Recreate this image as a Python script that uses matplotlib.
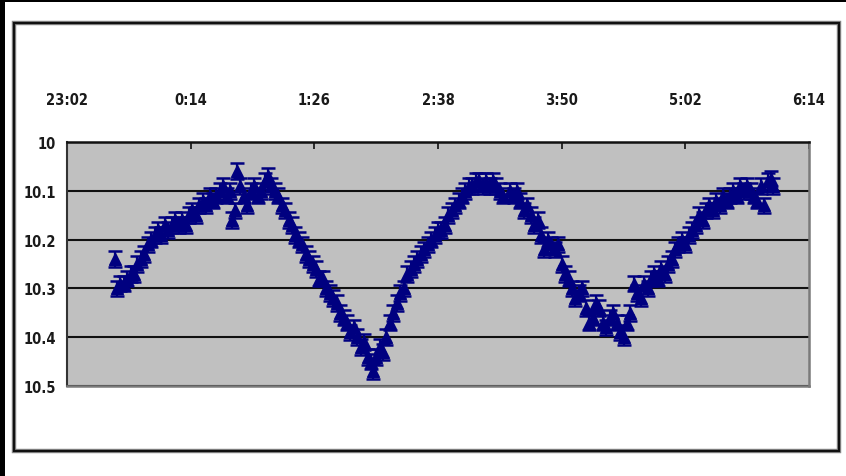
import matplotlib
matplotlib.use("Agg")
import matplotlib.pyplot as plt
from matplotlib.patches import Rectangle

# observation times, minutes after 23:02, and measured magnitudes
t_min = [28, 29, 31, 33, 35, 37, 39, 41, 43, 45, 47, 49, 51, 53, 55, 57, 59, 61, 63, 65,
         67, 69, 71, 73, 75, 77, 79, 81, 83, 85, 87, 89, 91, 93, 95, 96, 98, 99, 101, 103,
         105, 107, 109, 111, 113, 115, 117, 119, 121, 123, 125, 127, 129, 131, 133, 135, 137, 139, 141, 143,
         145, 147, 149, 151, 153, 155, 157, 159, 161, 163, 165, 167, 169, 171, 173, 175, 177, 178, 180, 182,
         184, 186, 188, 190, 192, 194, 196, 198, 200, 202, 204, 206, 208, 210, 212, 214, 216, 218, 220, 222,
         224, 226, 228, 230, 232, 234, 236, 238, 240, 242, 244, 246, 248, 250, 252, 254,
         258, 260, 262, 264, 266, 268, 270, 272, 274, 276, 278, 280, 282, 284, 286, 288, 290, 292, 294, 296,
         298, 300, 302, 304, 306, 308, 310, 312, 314, 316, 318, 320, 322, 324, 326, 328, 330, 332, 334, 336,
         338, 340, 342, 344, 346, 348, 350, 352, 354, 356, 358, 360, 362, 364, 366, 368, 370, 372, 374, 376,
         378, 380, 382, 384, 386, 388, 390, 392, 394, 396, 398, 400, 402, 404, 406, 408, 410, 411]
mag = [10.24, 10.30, 10.29, 10.29, 10.28, 10.27, 10.27, 10.25, 10.24, 10.23, 10.21, 10.20, 10.19, 10.18, 10.19, 10.17, 10.18, 10.17, 10.16, 10.17,
       10.16, 10.17, 10.15, 10.14, 10.15, 10.13, 10.12, 10.13, 10.11, 10.12, 10.11, 10.10, 10.09, 10.11, 10.10, 10.16, 10.14, 10.06, 10.09, 10.11,
       10.13, 10.10, 10.09, 10.11, 10.10, 10.08, 10.07, 10.09, 10.10, 10.11, 10.13, 10.14, 10.16, 10.17, 10.19, 10.20, 10.21, 10.23, 10.24, 10.25,
       10.26, 10.28, 10.28, 10.30, 10.31, 10.32, 10.33, 10.35, 10.36, 10.37, 10.39, 10.38, 10.40, 10.42, 10.41, 10.44, 10.45, 10.47, 10.44, 10.42,
       10.43, 10.40, 10.37, 10.35, 10.33, 10.31, 10.30, 10.27, 10.26, 10.25, 10.24, 10.23, 10.22, 10.21, 10.20, 10.19, 10.18, 10.18, 10.17, 10.15,
       10.14, 10.13, 10.12, 10.11, 10.10, 10.09, 10.09, 10.08, 10.08, 10.09, 10.08, 10.09, 10.08, 10.09, 10.10, 10.11,
       10.10, 10.11, 10.10, 10.12, 10.14, 10.13, 10.15, 10.17, 10.16, 10.19, 10.22, 10.20, 10.21, 10.22, 10.21, 10.25, 10.27, 10.28, 10.30, 10.32,
       10.31, 10.30, 10.34, 10.37, 10.36, 10.33, 10.34, 10.37, 10.38, 10.36, 10.35, 10.37, 10.39, 10.40, 10.37, 10.35, 10.29, 10.31, 10.32, 10.29,
       10.30, 10.28, 10.27, 10.28, 10.26, 10.27, 10.25, 10.24, 10.22, 10.21, 10.20, 10.21, 10.19, 10.18, 10.17, 10.15, 10.16, 10.14, 10.13, 10.14,
       10.12, 10.13, 10.11, 10.12, 10.11, 10.10, 10.11, 10.09, 10.10, 10.09, 10.10, 10.11, 10.12, 10.09, 10.13, 10.08, 10.075, 10.09]
mag_err = 0.016

tick_pos = [0, 72, 144, 216, 288, 360, 432]
tick_labels = ["23:02", "0:14", "1:26", "2:38", "3:50", "5:02", "6:14"]
y_ticks = [10, 10.1, 10.2, 10.3, 10.4, 10.5]
y_labels = ["10", "10.1", "10.2", "10.3", "10.4", "10.5"]

W, H = 846, 477
fig = plt.figure(figsize=(W / 100, H / 100), dpi=100)
fig.patch.set_facecolor("white")

# black margins on the left and top, then the chart frame
fig.patches.append(Rectangle((0, 0), 5 / W, 1, transform=fig.transFigure,
                             facecolor="black", edgecolor="none", zorder=0))
fig.patches.append(Rectangle((0, 1 - 3 / H), 1, 3 / H, transform=fig.transFigure,
                             facecolor="black", edgecolor="none", zorder=0))
fig.patches.append(Rectangle((14 / W, 1 - 452 / H), (839 - 14) / W, (452 - 24) / H,
                             transform=fig.transFigure, facecolor="none",
                             edgecolor="#8a8a8a", linewidth=3.2, zorder=0))
fig.patches.append(Rectangle((14 / W, 1 - 452 / H), (839 - 14) / W, (452 - 24) / H,
                             transform=fig.transFigure, facecolor="none",
                             edgecolor="#111111", linewidth=1.6, zorder=0))

ax = fig.add_axes([67 / W, 1 - 387 / H, (809 - 67) / W, (387 - 143) / H])
ax.set_zorder(5)
ax.set_facecolor("#c0c0c0")

ax.errorbar(t_min, mag, yerr=mag_err, fmt="^", color="#000080", ecolor="#000080",
            markersize=8, capsize=5, elinewidth=1.6, capthick=1.8, zorder=3)

ax.set_xlim(0, 432)
ax.set_ylim(10.5, 10.0)

ax.xaxis.tick_top()
ax.set_xticks(tick_pos)
ax.set_xticklabels(tick_labels)
ax.set_yticks(y_ticks)
ax.set_yticklabels(y_labels)

font = dict(family=["DejaVu Sans"], stretch="condensed", weight="bold", size=10.5, color="#1a1a1a")
for lab in ax.get_xticklabels() + ax.get_yticklabels():
    lab.set(**font)

ax.tick_params(axis="x", direction="in", length=5, width=1.2, color="#111111", pad=25)
ax.tick_params(axis="y", length=0, pad=8)

ax.grid(axis="y", color="#111111", linewidth=1.5, zorder=1)
ax.set_axisbelow(True)

ax.spines["top"].set_color("#111111")
ax.spines["top"].set_linewidth(1.8)
ax.spines["left"].set_color("#333333")
ax.spines["left"].set_linewidth(1.5)
ax.spines["bottom"].set_color("#7a7a7a")
ax.spines["bottom"].set_linewidth(1.8)
ax.spines["right"].set_color("#7a7a7a")
ax.spines["right"].set_linewidth(1.8)

fig.savefig("out.png", dpi=100, facecolor=fig.get_facecolor())
